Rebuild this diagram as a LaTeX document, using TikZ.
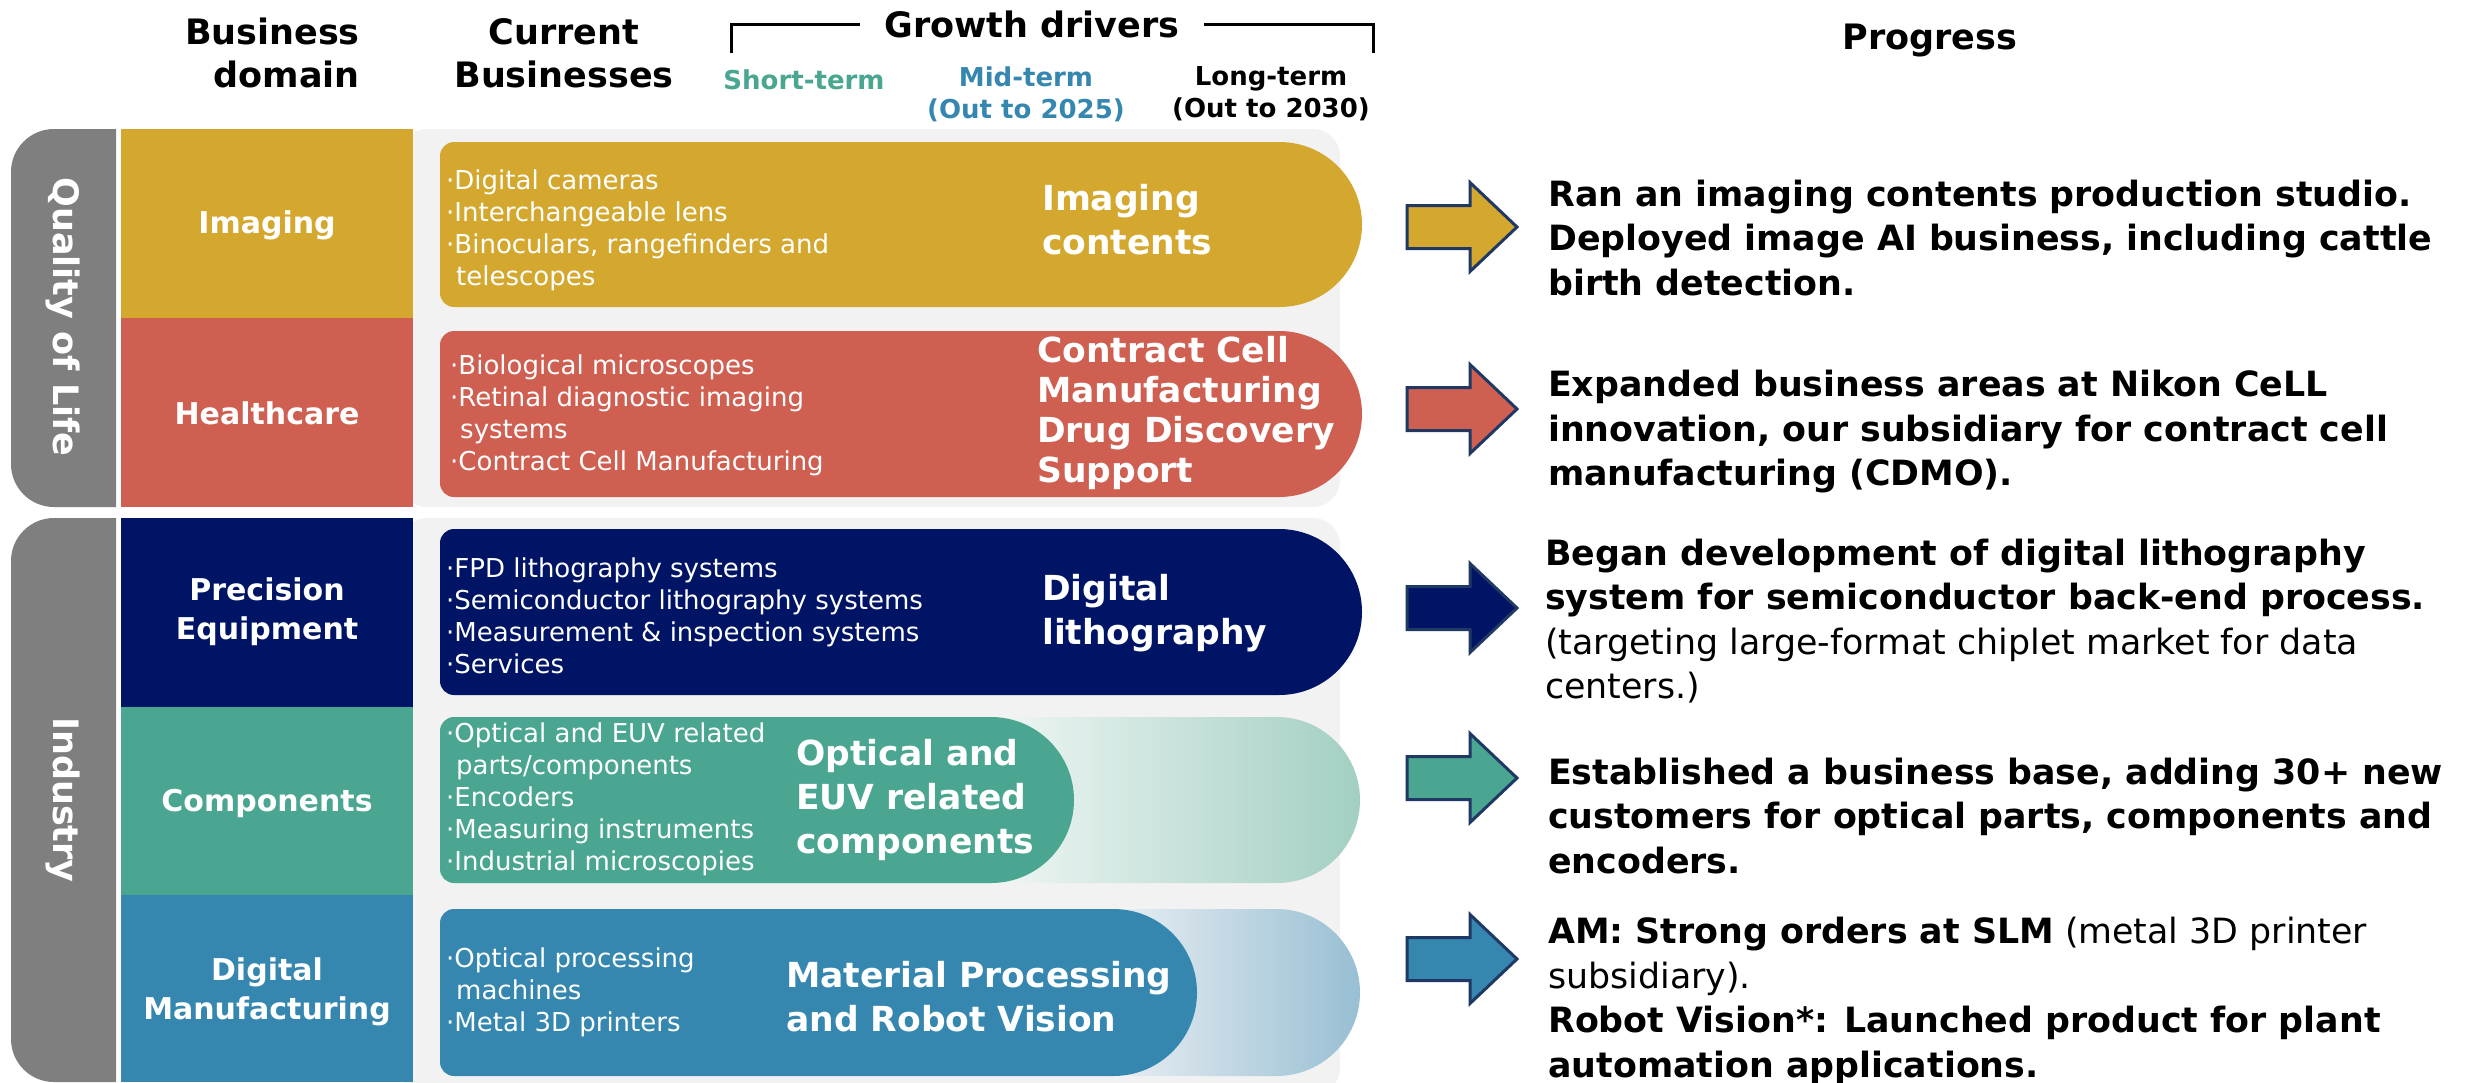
\documentclass[tikz,border=0pt]{standalone}
\usepackage{fontspec}
\setmainfont{DejaVu Sans}
\definecolor{imgc}{HTML}{D4A82F}
\definecolor{hcc}{HTML}{CF5F51}
\definecolor{pec}{HTML}{001466}
\definecolor{coc}{HTML}{4AA690}
\definecolor{dmc}{HTML}{3587B0}
\definecolor{barc}{HTML}{7F7F7F}
\definecolor{panelc}{HTML}{F2F2F2}
\definecolor{arrline}{HTML}{1F3864}
\definecolor{cofadeL}{HTML}{EEF5F3}
\definecolor{cofadeR}{HTML}{A3CFC3}
\definecolor{dmfadeL}{HTML}{E6EDF2}
\definecolor{dmfadeR}{HTML}{98BFD3}
\newcommand{\pillshape}[5]{%
  \path[#5] ({#1},{#3+14}) arc[start angle=180,end angle=270,radius=14]
    -- ({#2-(#4-#3)/2},{#3}) arc[start angle=-90,end angle=90,radius={(#4-#3)/2}]
    -- ({#1+14},{#4}) arc[start angle=90,end angle=180,radius=14] -- cycle;}
\begin{document}
\begin{tikzpicture}[x=1pt,y=-1pt,
  dom/.style={text=white,font=\fontsize{30}{39}\selectfont\bfseries,align=center,inner sep=0},
  bul/.style={text=white,font=\fontsize{26}{32}\selectfont,align=left,anchor=west,inner sep=0},
  big/.style={text=white,font=\fontsize{34.5}{44}\selectfont\bfseries,align=left,anchor=west,inner sep=0},
  prog/.style={font=\fontsize{34.8}{44.5}\selectfont,align=left,anchor=west,inner sep=0},
  hdr/.style={font=\fontsize{35}{43}\selectfont\bfseries,inner sep=0},
  term/.style={font=\fontsize{26}{32}\selectfont\bfseries,align=center,inner sep=0},
  side/.style={text=white,font=\fontsize{35}{40}\selectfont\bfseries,inner sep=0,rotate=-90},
  arr/.style={draw=arrline,line width=3,line join=miter}]
\useasboundingbox (0,0) rectangle (2471,1082);
\fill[white] (0,0) rectangle (2471,1082);

% headers
\node[hdr,align=right,anchor=east] (hdom) at (360,53) {Business\\domain};
\node[hdr,align=center] (hcur) at (564,53) {Current\\Businesses};
\node[hdr,anchor=base] (hgro) at (1032,37) {Growth drivers};
\draw[line width=3] (731,53) -- (731,24) -- (860,24);
\draw[line width=3] (1204,24) -- (1373,24) -- (1373,53);
\node[term,text=coc] (hshort) at (804,80) {Short-term};
\node[term,text=dmc] (hmid) at (1026,94) {Mid-term\\(Out to 2025)};
\node[term] (hlong) at (1271,94) {Long-term\\(Out to 2030)};
\node[hdr,anchor=base] (hprog) at (1930,49) {Progress};

% side bars
\fill[barc] (116,129) -- (54,129) arc[start angle=270,end angle=180,radius=43]
  -- (11,464) arc[start angle=180,end angle=90,radius=43] -- (116,507) -- cycle;
\fill[barc] (116,518) -- (54,518) arc[start angle=270,end angle=180,radius=43]
  -- (11,1039) arc[start angle=180,end angle=90,radius=43] -- (116,1082) -- cycle;
\node[side] (tql) at (63,317) {Quality of Life};
\node[side] (tind) at (63,800) {Industry};

% panels
\fill[panelc,rounded corners=27] (400,129) rectangle (1340,507);
\fill[panelc,rounded corners=27] (400,518) rectangle (1340,1095);

% domain boxes
\fill[imgc] (121,129) rectangle (413,318);
\fill[hcc] (121,318) rectangle (413,507);
\fill[pec] (121,518) rectangle (413,707);
\fill[coc] (121,707) rectangle (413,895);
\fill[dmc] (121,895) rectangle (413,1082);
\node[dom] (dimg) at (267,225) {Imaging};
\node[dom] (dhc) at (267,413) {Healthcare};
\node[dom] (dpe) at (267,612) {Precision\\Equipment};
\node[dom] (dco) at (267,803) {Components};
\node[dom] (ddm) at (267,992) {Digital\\Manufacturing};

% pills
\pillshape{440}{1362}{142}{307}{fill=imgc}
\pillshape{440}{1362}{331}{497}{fill=hcc}
\pillshape{440}{1362}{529}{695}{fill=pec}
\pillshape{1000}{1360}{717}{883}{left color=cofadeL,right color=cofadeR}
\pillshape{440}{1074}{717}{883}{fill=coc}
\pillshape{1120}{1360}{909}{1076}{left color=dmfadeL,right color=dmfadeR}
\pillshape{440}{1197}{909}{1076}{fill=dmc}

% bullet lists
\node[bul] (bimg) at (446,230) {·Digital cameras\\·Interchangeable lens\\·Binoculars, rangefinders and\\\hspace*{10pt}telescopes};
\node[bul] (bhc) at (450,415) {·Biological microscopes\\·Retinal diagnostic imaging\\\hspace*{10pt}systems\\·Contract Cell Manufacturing};
\node[bul] (bpe) at (446,616) {·FPD lithography systems\\·Semiconductor lithography systems\\·Measurement \& inspection systems\\·Services};
\node[bul] (bco) at (446,799) {·Optical and EUV related\\\hspace*{10pt}parts/components\\·Encoders\\·Measuring instruments\\·Industrial microscopies};
\node[bul] (bdm) at (446,992) {·Optical processing\\\hspace*{10pt}machines\\·Metal 3D printers};

% growth driver texts
\node[big] (gimg) at (1042,220) {Imaging\\contents};
\node[big,font=\fontsize{34.5}{40}\selectfont\bfseries] (ghc) at (1037,413) {Contract Cell\\Manufacturing\\Drug Discovery\\Support};
\node[big] (gpe) at (1042,613) {Digital\\lithography};
\node[big] (gco) at (796,800) {Optical and\\EUV related\\components};
\node[big] (gdm) at (786,997) {Material Processing\\and Robot Vision};

% arrows
\foreach \c/\col in {227/imgc,409/hcc,608/pec,778/coc,959/dmc}{
  \path[arr,fill=\col] (1407,{\c-21.5}) -- (1470,{\c-21.5}) -- (1470,{\c-44.5}) -- (1517,{\c})
    -- (1470,{\c+44.5}) -- (1470,{\c+21.5}) -- (1407,{\c+21.5}) -- cycle;
}

% progress texts
\node[prog] (p1) at (1548,238) {\textbf{Ran an imaging contents production studio.}\\\textbf{Deployed image AI business, including cattle}\\\textbf{birth detection.}};
\node[prog] (p2) at (1548,432) {\textbf{Expanded business areas at Nikon CeLL}\\\textbf{innovation, our subsidiary for contract cell}\\\textbf{manufacturing (CDMO).}};
\node[prog] (p3) at (1545,621) {\textbf{Began development of digital lithography}\\\textbf{system for semiconductor back-end process.}\\(targeting large-format chiplet market for data\\centers.)};
\node[prog] (p4) at (1548,816) {\textbf{Established a business base, adding 30+ new}\\\textbf{customers for optical parts, components and}\\\textbf{encoders.}};
\node[prog] (p5) at (1548,1001) {\textbf{AM: Strong orders at SLM} (metal 3D printer\\subsidiary).\\\textbf{Robot Vision*: Launched product for plant}\\\textbf{automation applications.}};
\end{tikzpicture}
\end{document}
